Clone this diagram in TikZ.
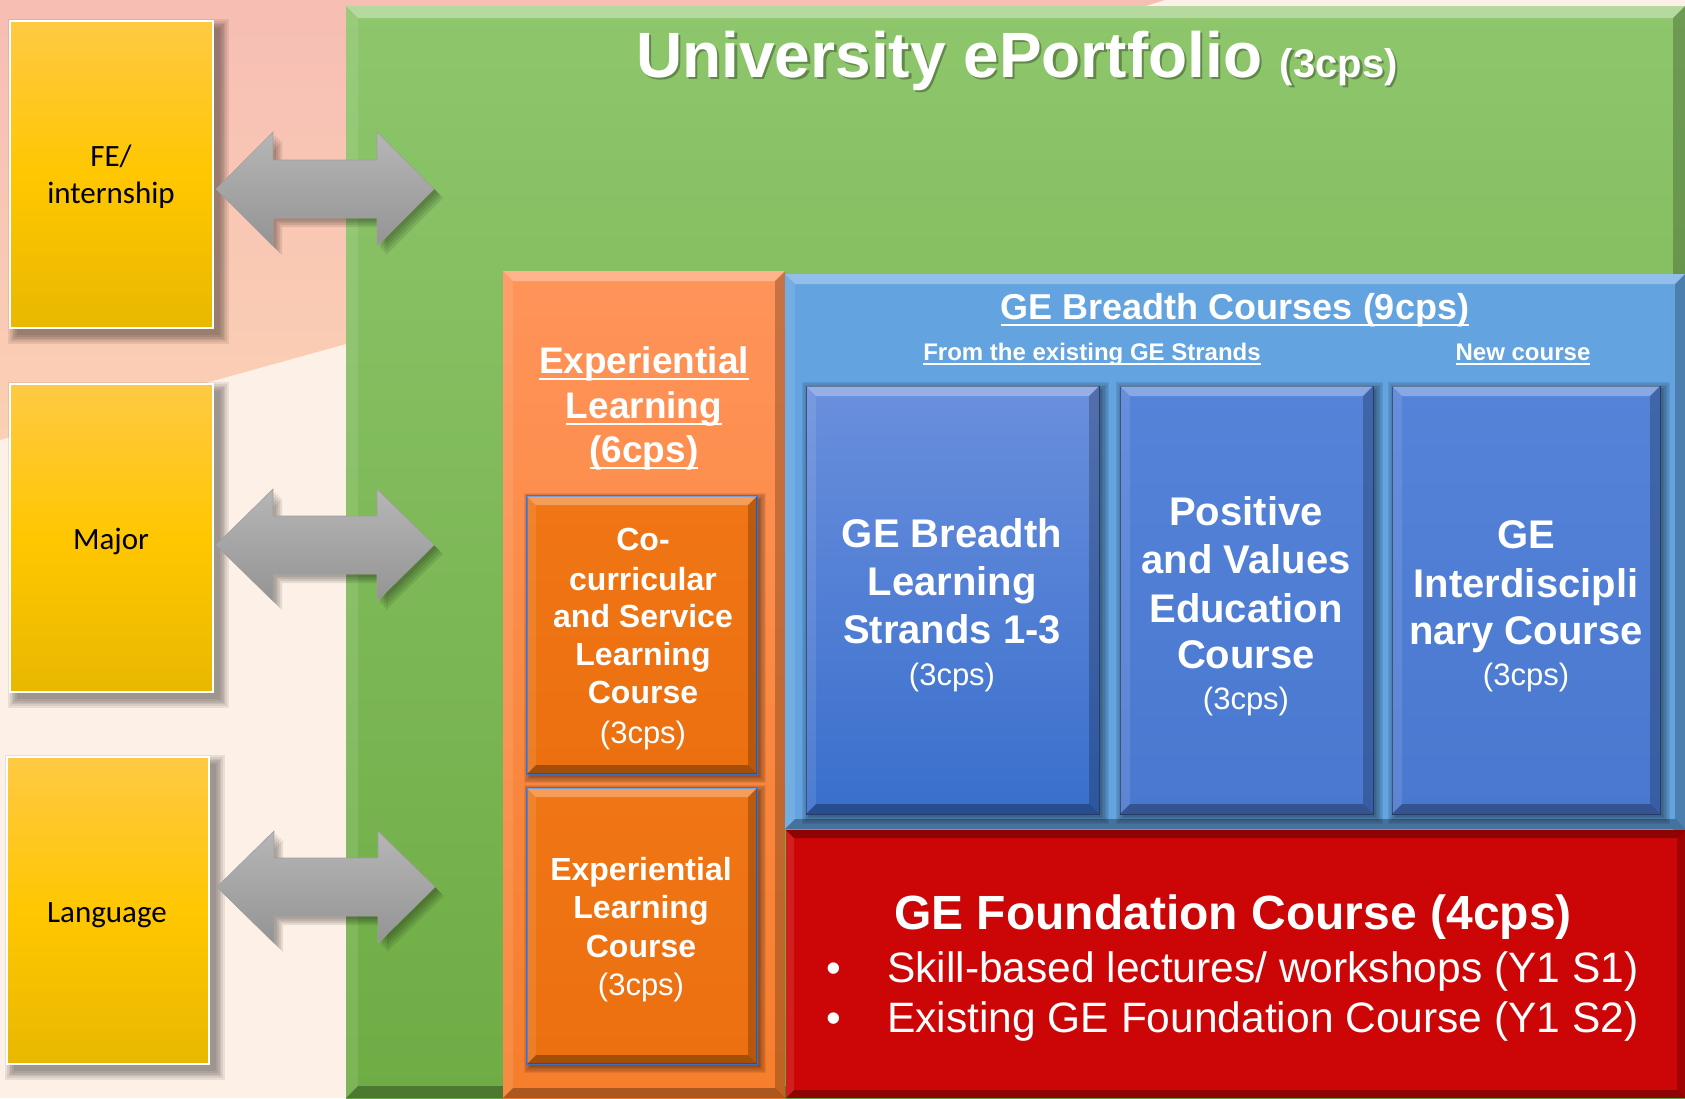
\documentclass[tikz,border=0pt]{standalone}
\usepackage{fontspec}
\setmainfont{Liberation Sans}
\newfontfamily\calfont{Carlito}
\usetikzlibrary{calc}
\newcommand\ulx[1]{\leavevmode\setbox0=\hbox{#1}\rlap{\rule[-0.2em]{\wd0}{0.055em}}\box0}
\newcommand\fsz[1]{\fontsize{#1}{#1}\selectfont}
\definecolor{bgcream}{RGB}{253,240,230}
\definecolor{pinkT}{RGB}{247,190,180}
\definecolor{pinkB}{RGB}{251,208,180}
\definecolor{gT}{RGB}{142,198,108}
\definecolor{gB}{RGB}{110,172,68}
\definecolor{oT}{RGB}{255,148,90}
\definecolor{oB}{RGB}{246,126,44}
\definecolor{oin}{RGB}{240,117,20}
\definecolor{oinB}{RGB}{236,112,16}
\definecolor{bbig}{RGB}{99,164,224}
\definecolor{b1T}{RGB}{106,143,221}
\definecolor{b1B}{RGB}{57,111,204}
\definecolor{b2T}{RGB}{84,131,216}
\definecolor{b2B}{RGB}{74,120,208}
\definecolor{redc}{RGB}{204,6,6}
\definecolor{yT}{RGB}{255,201,68}
\definecolor{yM}{RGB}{255,199,0}
\definecolor{yB}{RGB}{232,184,0}
\definecolor{arT}{RGB}{182,182,182}
\definecolor{arB}{RGB}{148,148,148}
\definecolor{oedge}{RGB}{68,114,196}
\definecolor{bedge}{RGB}{38,62,110}
% bevel: node name, size, top-band colour, top-band opacity
\newcommand\mybevel[4]{%
 \fill[#3,opacity=#4] (#1.north west) -- (#1.north east) -- ($(#1.north east)+(-#2,#2)$) -- ($(#1.north west)+(#2,#2)$) -- cycle;
 \fill[white,opacity=.10] (#1.north west) -- ($(#1.north west)+(#2,#2)$) -- ($(#1.south west)+(#2,-#2)$) -- (#1.south west) -- cycle;
 \fill[black,opacity=.22] (#1.north east) -- (#1.south east) -- ($(#1.south east)+(-#2,-#2)$) -- ($(#1.north east)+(-#2,#2)$) -- cycle;
 \fill[black,opacity=.30] (#1.south west) -- (#1.south east) -- ($(#1.south east)+(-#2,-#2)$) -- ($(#1.south west)+(#2,-#2)$) -- cycle;
}
% soft shadow: cx, cy, w, h, offset, spread
\newcommand\softshadow[6]{%
 \foreach \i in {0,1,2,3,4,5}{%
  \pgfmathsetmacro\shd{\i*#6/5}%
  \fill[black,opacity=.075] ({#1-#3/2+#5-\shd},{#2-#4/2+#5-\shd}) rectangle ({#1+#3/2+#5+\shd},{#2+#4/2+#5+\shd});
 }}
\newcommand\arrowpath[1]{(0,0) -- (57,-#1) -- (57,-29) -- (161,-29) -- (161,-#1) -- (218,0) -- (161,#1) -- (161,29) -- (57,29) -- (57,#1) -- cycle}
\newcommand\dblarrow[3]{%
 \begin{scope}[shift={(#1,#2)}]
 \foreach \d in {3,5,7,9}{\fill[black,opacity=.09,shift={(\d,\d)}] \arrowpath{#3};}
 \path[arrowfill] \arrowpath{#3};
 \end{scope}}
\begin{document}
\begin{tikzpicture}[x=1pt,y=-1pt,
  box/.style={inner sep=0pt, outer sep=0pt, draw=none},
  ybox/.style={box, top color=yT, bottom color=yB, middle color=yM, draw=white, line width=2pt},
  arrowfill/.style={top color=arT, bottom color=arB, draw=arB!90, line width=.6pt},
  innerb/.style={box, draw=bedge, line width=1pt},
  innero/.style={box, top color=oin, bottom color=oinB, draw=oedge, line width=1.5pt},
  wt/.style={anchor=base, text=white, inner sep=0pt},
  yt/.style={anchor=base, text=black, inner sep=0pt, font=\calfont\fsz{31}}
]
\useasboundingbox (0,0) rectangle (1685,1098);
% background
\fill[bgcream] (0,0) rectangle (1685,1098);
\shade[top color=pinkT, bottom color=pinkB] (0,0) -- (1165,0) .. controls (900,80) and (600,260) .. (346,344) -- (0,440) -- cycle;

% yellow boxes
\softshadow{111.5}{174.5}{203}{307}{7}{9}
\node[ybox, minimum width=203pt, minimum height=307pt] (fe) at (111.5,174.5) {};
\softshadow{111.5}{538}{203}{308}{7}{9}
\node[ybox, minimum width=203pt, minimum height=308pt] (major) at (111.5,538) {};
\softshadow{108}{910.5}{202}{307}{7}{9}
\node[ybox, minimum width=202pt, minimum height=307pt] (lang) at (108,910.5) {};

% green ePortfolio box
\node[box, top color=gT, bottom color=gB, minimum width=1339pt, minimum height=1092pt] (green) at (1015.5,552) {};
\mybevel{green}{12}{white}{.35}

% arrows
\dblarrow{216}{189}{57}
\dblarrow{216}{545}{56}
\dblarrow{217}{887}{56}

% orange experiential box
\node[box, top color=oT, bottom color=oB, minimum width=282pt, minimum height=827pt] (orbig) at (644,684.5) {};
\mybevel{orbig}{10}{white}{.3}

% blue breadth box
\node[box, fill=bbig, minimum width=900pt, minimum height=555pt] (bbox) at (1235,551.5) {};
\mybevel{bbox}{10}{white}{.3}

% red foundation box
\node[box, fill=redc, minimum width=899pt, minimum height=268pt] (redbox) at (1235.5,964) {};
\mybevel{redbox}{8}{black}{.3}

% inner orange boxes
\softshadow{642}{635}{230}{278}{3}{6}
\node[innero, minimum width=230pt, minimum height=278pt] (ora) at (642,635) {};
\mybevel{ora}{9}{white}{.3}
\softshadow{642}{926}{230}{276}{3}{6}
\node[innero, minimum width=230pt, minimum height=276pt] (orb) at (642,926) {};
\mybevel{orb}{9}{white}{.3}

% inner blue boxes
\softshadow{952.5}{600}{293}{428}{3}{7}
\node[innerb, top color=b1T, bottom color=b1B, minimum width=293pt, minimum height=428pt] (bl1) at (952.5,600) {};
\mybevel{bl1}{10}{white}{.3}
\softshadow{1246.5}{600}{253}{428}{3}{7}
\node[innerb, top color=b2T, bottom color=b2B, minimum width=253pt, minimum height=428pt] (bl2) at (1246.5,600) {};
\mybevel{bl2}{10}{white}{.3}
\softshadow{1526}{600}{268}{428}{3}{7}
\node[innerb, top color=b2T, bottom color=b2B, minimum width=268pt, minimum height=428pt] (bl3) at (1526,600) {};
\mybevel{bl3}{10}{white}{.3}

% title
\node[anchor=base, text=black, opacity=.3, inner sep=0pt, font=\bfseries\fsz{64}] (titleshadow) at (1019.5,79.5) {University ePortfolio {\fsz{40}(3cps)}};
\node[wt, font=\bfseries\fsz{64}] (title) at (1017,77) {University ePortfolio {\fsz{40}(3cps)}};

% breadth headings
\node[wt, font=\bfseries\fsz{36}] (tbreadth) at (1235,319) {\ulx{GE Breadth Courses (9cps)}};
\node[wt, font=\bfseries\fsz{24}] (texisting) at (1092,360) {\ulx{From the existing GE Strands}};
\node[wt, font=\bfseries\fsz{24}] (tnew) at (1523,360) {\ulx{New course}};

% experiential heading
\node[wt, font=\bfseries\fsz{37}] (tel1) at (644,373) {\ulx{Experiential}};
\node[wt, font=\bfseries\fsz{37}] (tel2) at (644,418) {\ulx{Learning}};
\node[wt, font=\bfseries\fsz{37}] (tel3) at (644,462) {\ulx{(6cps)}};

% orange A
\node[wt, font=\bfseries\fsz{32}] (ta1) at (643,550) {Co-};
\node[wt, font=\bfseries\fsz{32}] (ta2) at (643,590) {curricular};
\node[wt, font=\bfseries\fsz{32}] (ta3) at (643,627) {and Service};
\node[wt, font=\bfseries\fsz{32}] (ta4) at (643,665) {Learning};
\node[wt, font=\bfseries\fsz{32}] (ta5) at (643,703) {Course};
\node[wt, font=\fsz{31}] (ta6) at (643,743) {(3cps)};

% orange B
\node[wt, font=\bfseries\fsz{32}] (tb1) at (641,880) {Experiential};
\node[wt, font=\bfseries\fsz{32}] (tb2) at (641,918) {Learning};
\node[wt, font=\bfseries\fsz{32}] (tb3) at (641,957) {Course};
\node[wt, font=\fsz{31}] (tb4) at (641,995) {(3cps)};

% blue 1
\node[wt, font=\bfseries\fsz{40}] (tc1) at (952,547) {GE Breadth};
\node[wt, font=\bfseries\fsz{40}] (tc2) at (952,595) {Learning};
\node[wt, font=\bfseries\fsz{40}] (tc3) at (952,643) {Strands 1-3};
\node[wt, font=\fsz{31}] (tc4) at (952,685) {(3cps)};

% blue 2
\node[wt, font=\bfseries\fsz{40}] (td1) at (1246,525) {Positive};
\node[wt, font=\bfseries\fsz{40}] (td2) at (1246,573) {and Values};
\node[wt, font=\bfseries\fsz{40}] (td3) at (1246,622) {Education};
\node[wt, font=\bfseries\fsz{40}] (td4) at (1246,668) {Course};
\node[wt, font=\fsz{31}] (td5) at (1246,709) {(3cps)};

% blue 3
\node[wt, font=\bfseries\fsz{40}] (te1) at (1526,548) {GE};
\node[wt, font=\bfseries\fsz{40}] (te2) at (1526,597) {Interdiscipli};
\node[wt, font=\bfseries\fsz{40}] (te3) at (1526,644) {nary Course};
\node[wt, font=\fsz{31}] (te4) at (1526,685) {(3cps)};

% red
\node[wt, font=\bfseries\fsz{48}] (tf1) at (1233,929) {GE Foundation Course (4cps)};
\node[wt, font=\fsz{42}] (tfb1) at (834,982) {•};
\node[wt, font=\fsz{42}] (tfb2) at (834,1032) {•};
\node[wt, anchor=base west, font=\fsz{42.5}] (tf2) at (887,982) {Skill-based lectures/ workshops (Y1 S1)};
\node[wt, anchor=base west, font=\fsz{42.5}] (tf3) at (887,1032) {Existing GE Foundation Course (Y1 S2)};

% yellow texts
\node[yt] (tfe1) at (111,166) {FE/};
\node[yt] (tfe2) at (111,203) {internship};
\node[yt] (tmaj) at (111,549) {Major};
\node[yt] (tlang) at (107,922) {Language};
\end{tikzpicture}
\end{document}
